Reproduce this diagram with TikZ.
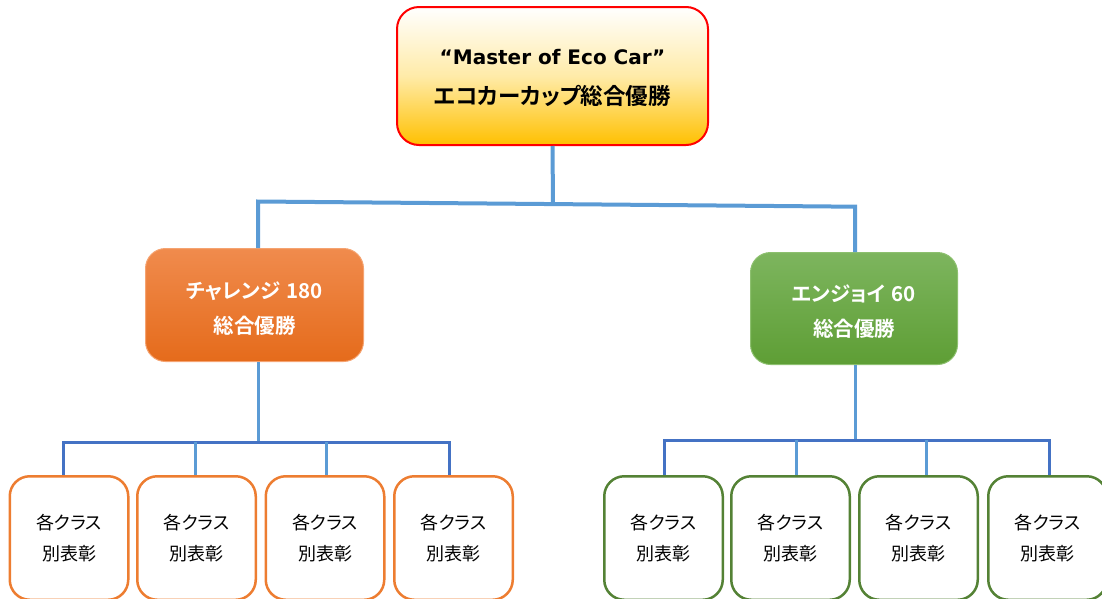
\documentclass[tikz,border=0pt]{standalone}
\usepackage{fontspec}
\setmainfont{DejaVu Sans}
\newfontfamily\lat{DejaVu Sans}
\newfontfamily\jp[RawFeature=+palt,BoldFont={Noto Sans CJK JP Bold}]{Noto Sans CJK JP}
\definecolor{topred}{HTML}{FF0000}
\definecolor{topgold}{HTML}{FFC000}
\definecolor{topmid}{HTML}{FFEBA8}
\definecolor{ortop}{HTML}{F08B4D}
\definecolor{orbot}{HTML}{E56B1B}
\definecolor{orline}{HTML}{F5A371}
\definecolor{grtop}{HTML}{7DB55E}
\definecolor{grbot}{HTML}{5E9E35}
\definecolor{grline}{HTML}{8DC06F}
\definecolor{orbox}{HTML}{ED7D31}
\definecolor{grbox}{HTML}{548235}
\definecolor{lblue}{HTML}{5B9BD5}
\definecolor{dblue}{HTML}{4472C4}
\begin{document}
\begin{tikzpicture}[x=1pt,y=-1pt,
  topbox/.style={draw=topred, line width=2pt, rounded corners=22pt,
    top color=white, bottom color=topgold, middle color=topmid,
    minimum width=311pt, minimum height=138pt, inner sep=0pt, align=center,
    font=\fontsize{20}{40}\selectfont},
  midbox/.style={line width=1pt, rounded corners=20pt, inner sep=0pt,
    align=center, text=white, font=\jp\bfseries\fontsize{20.5}{35}\selectfont},
  orbig/.style={midbox, draw=orline, top color=ortop, bottom color=orbot,
    minimum width=218pt, minimum height=113pt},
  grbig/.style={midbox, draw=grline, top color=grtop, bottom color=grbot,
    minimum width=207pt, minimum height=112pt},
  smallbox/.style={fill=white, line width=2.5pt, rounded corners=20pt,
    minimum width=118.5pt, minimum height=123.5pt, inner sep=0pt,
    align=center, font=\jp\fontsize{18}{31}\selectfont},
  orsmall/.style={smallbox, draw=orbox},
  grsmall/.style={smallbox, draw=grbox},
  topline/.style={draw=lblue, line width=4pt},
  stem/.style={draw=lblue, line width=3pt},
  bus/.style={draw=dblue, line width=3pt}
]
\useasboundingbox (0,0) rectangle (1102,598);
\clip (0,0) rectangle (1102,598);

% top box
\node[topbox] (top) at (552.5,76)
  {\rule{0pt}{20pt}{\lat\bfseries “Master of Eco Car”}\\{\jp\bfseries\fontsize{22.5}{40}\selectfont エコカーカップ総合優勝}};

% middle boxes
\node[orbig] (om) at (254.5,305) {\rule{0pt}{23pt}チャレンジ\hspace{0.3em}180\\総合優勝};
\node[grbig] (gm) at (854,308.5) {\rule{0pt}{23pt}エンジョイ\hspace{0.3em}60\\総合優勝};

% bottom boxes
\node[orsmall] (ob1) at (69,538)    {各クラス\\別表彰};
\node[orsmall] (ob2) at (196.5,538) {各クラス\\別表彰};
\node[orsmall] (ob3) at (325,538)   {各クラス\\別表彰};
\node[orsmall] (ob4) at (453.5,538) {各クラス\\別表彰};
\node[grsmall] (gb1) at (663.5,538)  {各クラス\\別表彰};
\node[grsmall] (gb2) at (790.5,538)  {各クラス\\別表彰};
\node[grsmall] (gb3) at (918.5,538)  {各クラス\\別表彰};
\node[grsmall] (gb4) at (1047.5,538) {各クラス\\別表彰};

% top connectors
\coordinate (hl) at (258,201.5);
\coordinate (hr) at (855,206.7);
\coordinate (hm) at (553,204.1);
\draw[topline] (top.south) -- (hm);
\draw[topline] ([xshift=3.5pt]om.north) -- (hl) -- (hr) -- ([xshift=1pt]gm.north);

% left bus
\coordinate (lbus) at (0,442);
\draw[stem] ([xshift=3.5pt]om.south) -- ([xshift=3.5pt]om.south |- lbus);
\draw[bus] ([xshift=-6pt]ob1.north) -- ([xshift=-6pt]ob1.north |- lbus)
  -- ([xshift=-4.5pt]ob4.north |- lbus) -- ([xshift=-4.5pt]ob4.north);
\draw[stem] ([xshift=-1.5pt]ob2.north) -- ([xshift=-1.5pt]ob2.north |- lbus);
\draw[stem] ([xshift=1pt]ob3.north) -- ([xshift=1pt]ob3.north |- lbus);

% right bus
\coordinate (rbus) at (0,440);
\draw[stem] ([xshift=1pt]gm.south) -- ([xshift=1pt]gm.south |- rbus);
\draw[bus] ([xshift=0.5pt]gb1.north) -- ([xshift=0.5pt]gb1.north |- rbus)
  -- ([xshift=1.5pt]gb4.north |- rbus) -- ([xshift=1.5pt]gb4.north);
\draw[stem] ([xshift=5.5pt]gb2.north) -- ([xshift=5.5pt]gb2.north |- rbus);
\draw[stem] ([xshift=7.5pt]gb3.north) -- ([xshift=7.5pt]gb3.north |- rbus);
\end{tikzpicture}
\end{document}
